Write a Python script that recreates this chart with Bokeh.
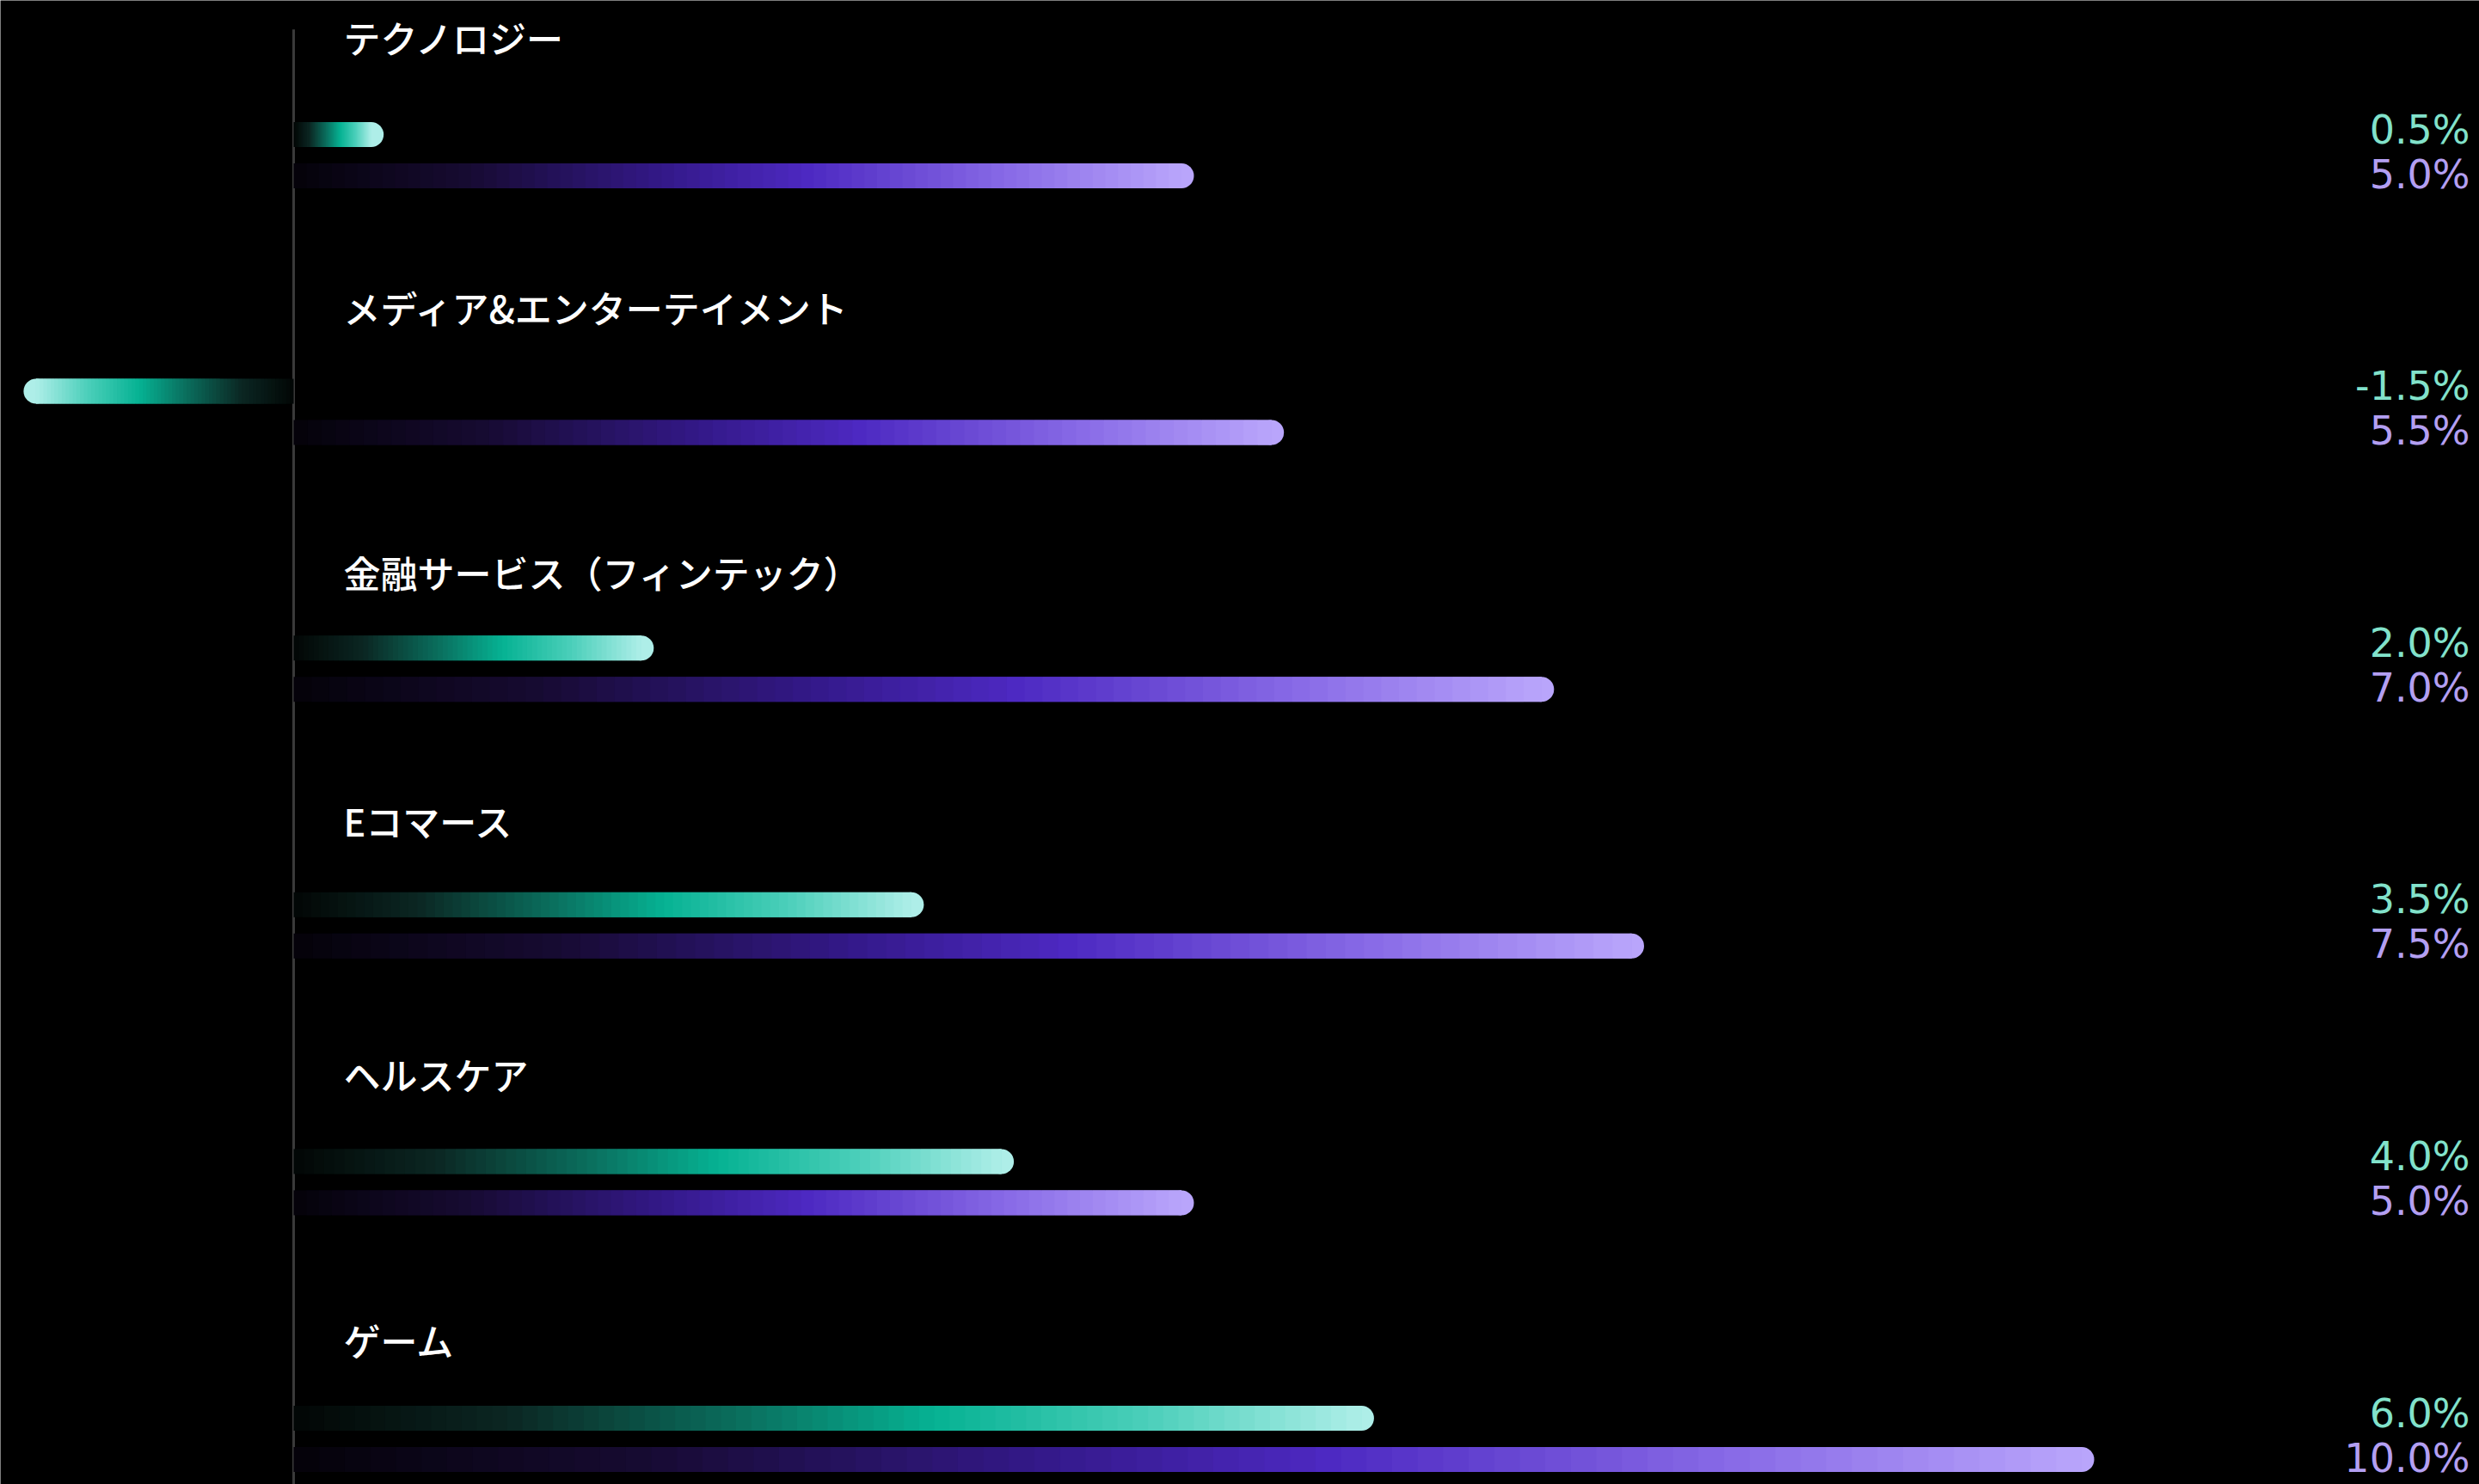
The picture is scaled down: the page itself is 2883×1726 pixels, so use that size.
import numpy as np
from bokeh.plotting import figure
from bokeh.models import Range1d
from bokeh.embed import file_html
from bokeh.resources import INLINE
from bokeh.core.properties import value

# ---------------- data ----------------
categories = ["テクノロジー", "メディア&エンターテイメント", "金融サービス（フィンテック）",
              "Eコマース", "ヘルスケア", "ゲーム"]
series_a = [0.5, -1.5, 2.0, 3.5, 4.0, 6.0]      # teal bars
series_b = [5.0, 5.5, 7.0, 7.5, 5.0, 10.0]      # purple bars
labels_a = ["0.5%", "-1.5%", "2.0%", "3.5%", "4.0%", "6.0%"]
labels_b = ["5.0%", "5.5%", "7.0%", "7.5%", "5.0%", "10.0%"]

# ---------------- layout / style ----------------
W, H = 2883, 1726
ZERO_PX = 341.0          # pixel position of zero line
PX_PER_UNIT = 209.4      # pixels per 1 %
ROW0_PX = 180.0          # pixel y of first row centre
ROW_PX = 298.6           # pixels per row
BAR_PX = 29.0            # bar thickness in pixels
BAR_GAP_PX = 24.0        # offset of each bar from the row centre
LABEL_DY_PX = [-138, -122, -113, -122, -126, -116]   # category label offsets above row centre

x_start = -ZERO_PX / PX_PER_UNIT
x_end = (W - ZERO_PX) / PX_PER_UNIT
y_top = -ROW0_PX / ROW_PX
y_bottom = (H - ROW0_PX) / ROW_PX

bar_h = BAR_PX / ROW_PX
off = BAR_GAP_PX / ROW_PX
r_data = (BAR_PX / 2) / PX_PER_UNIT

teal_stops = [(0.0, "#020605"), (0.2, "#0b2622"), (0.42, "#0a6f5e"), (0.6, "#06b293"),
              (0.8, "#4bcfba"), (1.0, "#aeeee8")]
purple_stops = [(0.0, "#040208"), (0.2, "#170b33"), (0.42, "#34198a"), (0.58, "#4d29c2"),
                (0.8, "#8769e6"), (1.0, "#b9a5fb")]


def hex2rgb(h):
    h = h.lstrip("#")
    return np.array([int(h[i:i + 2], 16) for i in (0, 2, 4)], dtype=float)


def interp(stops, t):
    for (t0, c0), (t1, c1) in zip(stops[:-1], stops[1:]):
        if t <= t1:
            f = 0 if t1 == t0 else (t - t0) / (t1 - t0)
            c = hex2rgb(c0) * (1 - f) + hex2rgb(c1) * f
            return "#%02x%02x%02x" % tuple(int(round(v)) for v in c)
    return stops[-1][1]


p = figure(width=W, height=H, output_backend="svg", toolbar_location=None,
           x_range=Range1d(x_start, x_end), y_range=Range1d(y_bottom, y_top),
           x_axis_type=None, y_axis_type=None, min_border=0,
           background_fill_color="black", border_fill_color="black", outline_line_color=None)
p.grid.visible = False

# zero line
p.segment(x0=[0], y0=[-0.49], x1=[0], y1=[y_bottom], line_color="#3a3a3a", line_width=3)

N = 70
for vals, stops, dy in ((series_a, teal_stops, -off), (series_b, purple_stops, off)):
    L, R, T, B, C = [], [], [], [], []
    cx, cy, cc = [], [], []
    for i, v in enumerate(vals):
        s = 1 if v >= 0 else -1
        body_end = v - s * r_data
        edges = np.linspace(0, body_end, N + 1)
        yc = i + dy
        for k in range(N):
            a = edges[k]
            b = edges[min(k + 2, N)]
            L.append(min(a, b)); R.append(max(a, b))
            T.append(yc - bar_h / 2); B.append(yc + bar_h / 2)
            tmid = abs((edges[k] + edges[k + 1]) / 2) / abs(body_end)
            C.append(interp(stops, tmid))
        cx.append(body_end); cy.append(yc); cc.append(interp(stops, 1.0))
    # rounded end cap first, gradient body on top
    p.circle(x=cx, y=cy, radius=r_data, fill_color=cc, line_color=None)
    p.quad(left=L, right=R, top=T, bottom=B, fill_color=C, line_color=None)

# category labels
rows = list(range(len(categories)))
p.text(x=[0] * len(categories), y=[r + d / ROW_PX for r, d in zip(rows, LABEL_DY_PX)], text=categories,
       x_offset=58, text_align="left", text_baseline="middle",
       text_color="white", text_font=value("Noto Sans CJK JP Medium"), text_font_size="43px")

# value labels
p.text(x=[x_end] * len(rows), y=[r - off for r in rows], text=labels_a, x_offset=-11, y_offset=-6,
       text_align="right", text_baseline="middle", text_color="#82e2cb",
       text_font=value("DejaVu Sans"), text_font_size="46px")
p.text(x=[x_end] * len(rows), y=[r + off for r in rows], text=labels_b, x_offset=-11, y_offset=-2,
       text_align="right", text_baseline="middle", text_color="#b39ff2",
       text_font=value("DejaVu Sans"), text_font_size="46px")

open("out.html", "w").write(file_html(p, INLINE))
